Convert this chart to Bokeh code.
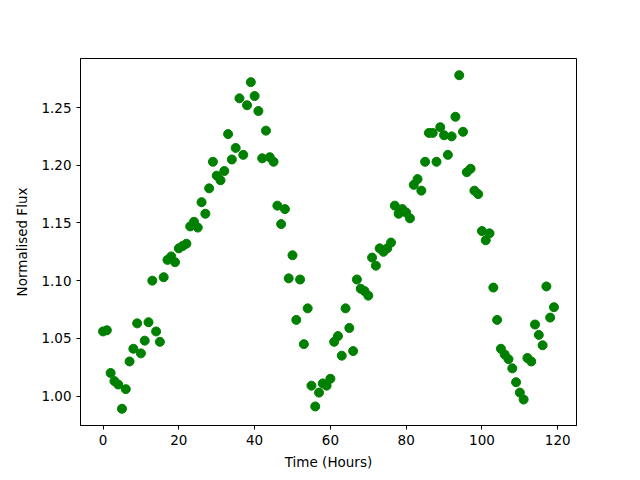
from bokeh.plotting import figure
from bokeh.embed import file_html
from bokeh.resources import INLINE
from bokeh.models import FixedTicker, NumeralTickFormatter, Range1d

hours = list(range(120))
flux = [
    1.056, 1.057, 1.020, 1.013, 1.010, 0.989, 1.006, 1.030, 1.041, 1.063,
    1.037, 1.048, 1.064, 1.100, 1.056, 1.047, 1.103, 1.118, 1.121, 1.116,
    1.128, 1.130, 1.132, 1.147, 1.151, 1.146, 1.168, 1.158, 1.180, 1.203,
    1.191, 1.187, 1.195, 1.227, 1.205, 1.215, 1.258, 1.209, 1.252, 1.272,
    1.260, 1.247, 1.206, 1.230, 1.207, 1.203, 1.165, 1.149, 1.162, 1.102,
    1.122, 1.066, 1.101, 1.045, 1.076, 1.009, 0.991, 1.003, 1.011, 1.009,
    1.015, 1.047, 1.052, 1.035, 1.076, 1.059, 1.039, 1.101, 1.093, 1.091,
    1.087, 1.120, 1.113, 1.128, 1.125, 1.128, 1.133, 1.165, 1.158, 1.162,
    1.159, 1.154, 1.183, 1.188, 1.178, 1.203, 1.228, 1.228, 1.203, 1.233,
    1.226, 1.209, 1.225, 1.242, 1.278, 1.229, 1.194, 1.197, 1.178, 1.175,
    1.143, 1.135, 1.141, 1.094, 1.066, 1.041, 1.036, 1.032, 1.024, 1.012,
    1.003, 0.997, 1.033, 1.030, 1.062, 1.053, 1.044, 1.095, 1.068, 1.077,
]
x_ticks = [0, 20, 40, 60, 80, 100, 120]
y_ticks = [1.00, 1.05, 1.10, 1.15, 1.20, 1.25]

p = figure(width=632, height=472, output_backend="svg", toolbar_location=None,
           x_range=Range1d(-5.95, 124.95), y_range=Range1d(0.9745, 1.2925),
           min_border_left=80, min_border_top=58, min_border_right=56, min_border_bottom=45)
p.scatter(hours, flux, size=9, color="green", line_color="green")

p.xgrid.visible = False
p.ygrid.visible = False
p.outline_line_color = "black"
p.outline_line_width = 1

p.xaxis.ticker = FixedTicker(ticks=x_ticks)
p.yaxis.ticker = FixedTicker(ticks=y_ticks)
p.yaxis.formatter = NumeralTickFormatter(format="0.00")
p.xaxis.axis_label = "Time (Hours)"
p.yaxis.axis_label = "Normalised Flux"
for ax in (p.xaxis, p.yaxis):
    ax.minor_tick_line_color = None
    ax.major_tick_out = 4
    ax.major_tick_in = 0
    ax.major_label_text_font = "DejaVu Sans"
    ax.major_label_text_font_size = "13.5px"
    ax.major_label_text_color = "black"
    ax.axis_label_text_font = "DejaVu Sans"
    ax.axis_label_text_font_size = "13.5px"
    ax.axis_label_text_font_style = "normal"
    ax.axis_label_text_color = "black"
    ax.axis_line_color = "black"
    ax.major_tick_line_color = "black"
p.xaxis.axis_label_standoff = 6
p.yaxis.axis_label_standoff = 8
p.yaxis.major_label_orientation = "horizontal"

open("out.html", "w").write(file_html(p, INLINE))
